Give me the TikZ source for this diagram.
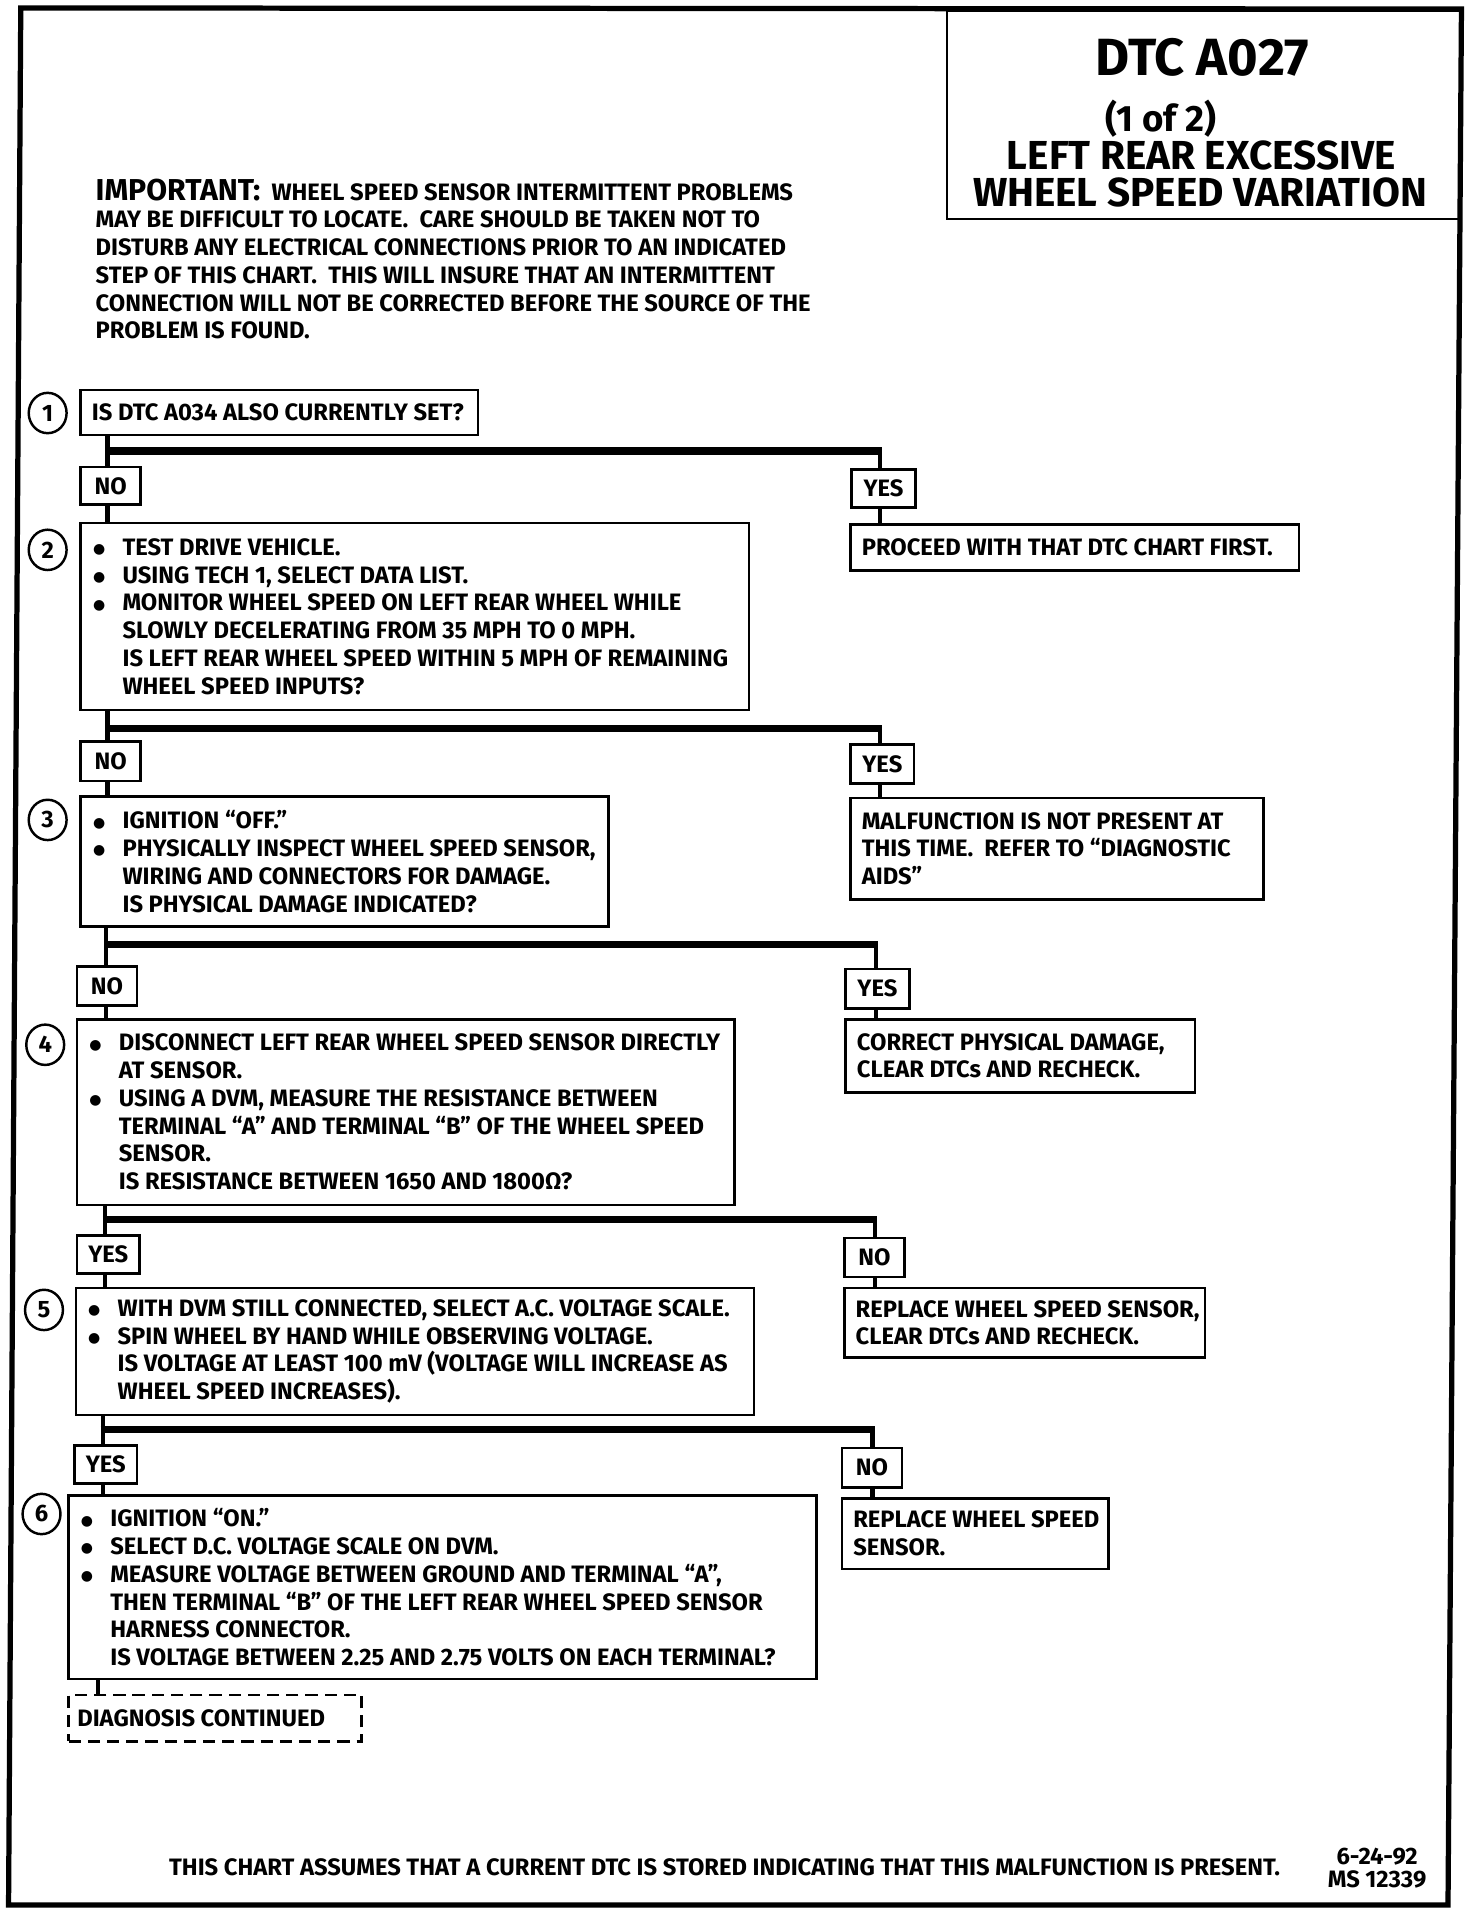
\documentclass[tikz,border=0pt]{standalone}
\usepackage{fontspec}
\setmainfont{Fira Sans}
\newfontfamily\symfont{DejaVu Sans}
\usetikzlibrary{calc,shapes.geometric}
\newcommand{\myu}{0.7pt}
\newcommand{\bfont}{\bfseries\fontsize{13.6}{15.9}\selectfont}
\newcommand{\bul}{\makebox[17.5pt][l]{\hspace{0.6pt}\raisebox{1pt}{\symfont\fontsize{8}{8}\selectfont ●}}}
\newcommand{\ind}{\hspace*{17.5pt}}
\newcommand{\mkbox}[6]{\node[frame, minimum width={(#4-#2)*\myu}, minimum height={(#5-#3)*\myu}] (#1) at (#2,#3) {#6};}
\tikzset{
  every node/.style={font=\bfont, inner sep=0pt},
  frame/.style={draw, line width=1.5pt, anchor=north west, inner sep=0pt},
  lbl/.style={anchor=west, align=left, inner sep=0pt},
  stem/.style={line width=2.4pt},
  bar/.style={line width=4.2pt},
  num/.style={draw, ellipse, line width=1.4pt, minimum width={31*\myu}, minimum height={33*\myu}, inner sep=0pt},
  dashbox/.style={frame, dash pattern=on 7pt off 4pt, line width=1.6pt},
  ttl/.style={anchor=base, font=\bfseries\fontsize{23.2}{26}\selectfont},
}
\begin{document}
\begin{tikzpicture}[x=\myu,y=-\myu]
\useasboundingbox (0,0) rectangle (1205,1568);
% outer border
\draw[line width=3pt] (17,6.5) -- (1196,7.4) -- (1185,1559) -- (7,1559) -- cycle;
% title box
\mkbox{title}{774}{8}{1194}{178}{}
\node[anchor=base, font=\bfseries\fontsize{30}{32}\selectfont] (t1) at (984,62) {DTC A027};
\node[ttl, font=\bfseries\fontsize{21}{24}\selectfont] (t2) at (950,108) {(1 of 2)};
\node[ttl] (t3) at (983,139) {LEFT REAR EXCESSIVE};
\node[ttl] (t4) at (982,169) {WHEEL SPEED VARIATION};
% important
\node[lbl] (imp) at (78,212) {{\fontsize{17.3}{15.9}\selectfont IMPORTANT:}\ \ WHEEL SPEED SENSOR INTERMITTENT PROBLEMS\\
MAY BE DIFFICULT TO LOCATE.\ \ CARE SHOULD BE TAKEN NOT TO\\
DISTURB ANY ELECTRICAL CONNECTIONS PRIOR TO AN INDICATED\\
STEP OF THIS CHART.\ \ THIS WILL INSURE THAT AN INTERMITTENT\\
CONNECTION WILL NOT BE CORRECTED BEFORE THE SOURCE OF THE\\
PROBLEM IS FOUND.};
% step 1
\node[num] (c1) at (39,338) {1};
\mkbox{s1}{65}{318}{390}{355}{}
\node[lbl] (s1t) at ($(s1.west)+(10,0)$) {IS DTC A034 ALSO CURRENTLY SET?};
\mkbox{no1}{65}{381}{114}{412}{NO}
\mkbox{yes1}{696}{383}{748}{414}{YES}
\mkbox{r1}{695}{428}{1062}{466}{}
\node[lbl] (r1t) at ($(r1.west)+(10,0)$) {PROCEED WITH THAT DTC CHART FIRST.};
\coordinate (j1) at (88,369); \coordinate (k1) at (720,369);
% step 2
\node[num] (c2) at (39,450) {2};
\mkbox{s2}{65}{427}{612}{580}{}
\node[lbl] (s2t) at ($(s2.west)+(10,0)$) {\bul TEST DRIVE VEHICLE.\\
\bul USING TECH 1, SELECT DATA LIST.\\
\bul MONITOR WHEEL SPEED ON LEFT REAR WHEEL WHILE\\
\ind SLOWLY DECELERATING FROM 35 MPH TO 0 MPH.\\
\ind IS LEFT REAR WHEEL SPEED WITHIN 5 MPH OF REMAINING\\
\ind WHEEL SPEED INPUTS?};
\mkbox{no2}{65}{606}{114}{638}{NO}
\mkbox{yes2}{695}{608}{747}{640}{YES}
\mkbox{r2}{695}{652}{1033}{735}{}
\node[lbl] (r2t) at ($(r2.west)+(10,0)$) {MALFUNCTION IS NOT PRESENT AT\\
THIS TIME.\ \ REFER TO “DIAGNOSTIC\\
AIDS”};
\coordinate (j2) at (88,596); \coordinate (k2) at (720,596);
% step 3
\node[num] (c3) at (39,671) {3};
\mkbox{s3}{65}{651}{497}{757}{}
\node[lbl] (s3t) at ($(s3.west)+(10,0)$) {\bul IGNITION “OFF.”\\
\bul PHYSICALLY INSPECT WHEEL SPEED SENSOR,\\
\ind WIRING AND CONNECTORS FOR DAMAGE.\\
\ind IS PHYSICAL DAMAGE INDICATED?};
\mkbox{no3}{62}{790}{111}{822}{NO}
\mkbox{yes3}{691}{792}{743}{824}{YES}
\mkbox{r3}{691}{833}{977}{893}{}
\node[lbl] (r3t) at ($(r3.west)+(10,0)$) {CORRECT PHYSICAL DAMAGE,\\
CLEAR DTCs AND RECHECK.};
\coordinate (j3) at (87,773); \coordinate (k3) at (717,773);
% step 4
\node[num] (c4) at (37,855) {4};
\mkbox{s4}{62}{833}{600}{985}{}
\node[lbl] (s4t) at ($(s4.west)+(10,0)$) {\bul DISCONNECT LEFT REAR WHEEL SPEED SENSOR DIRECTLY\\
\ind AT SENSOR.\\
\bul USING A DVM, MEASURE THE RESISTANCE BETWEEN\\
\ind TERMINAL “A” AND TERMINAL “B” OF THE WHEEL SPEED\\
\ind SENSOR.\\
\ind IS RESISTANCE BETWEEN 1650 AND 1800Ω?};
\mkbox{yes4}{62}{1010}{113}{1041}{YES}
\mkbox{no4}{690}{1012}{739}{1044}{NO}
\mkbox{r4}{690}{1053}{985}{1110}{}
\node[lbl] (r4t) at ($(r4.west)+(10,0)$) {REPLACE WHEEL SPEED SENSOR,\\
CLEAR DTCs AND RECHECK.};
\coordinate (j4) at (86,998); \coordinate (k4) at (716,998);
% step 5
\node[num] (c5) at (36,1072) {5};
\mkbox{s5}{61}{1053}{616}{1157}{}
\node[lbl] (s5t) at ($(s5.west)+(10,0)$) {\bul WITH DVM STILL CONNECTED, SELECT A.C. VOLTAGE SCALE.\\
\bul SPIN WHEEL BY HAND WHILE OBSERVING VOLTAGE.\\
\ind IS VOLTAGE AT LEAST 100 mV (VOLTAGE WILL INCREASE AS\\
\ind WHEEL SPEED INCREASES).};
\mkbox{yes5}{60}{1182}{111}{1213}{YES}
\mkbox{no5}{688}{1184}{737}{1216}{NO}
\mkbox{r5}{688}{1225}{906}{1283}{}
\node[lbl] (r5t) at ($(r5.west)+(10,0)$) {REPLACE WHEEL SPEED\\
SENSOR.};
\coordinate (j5) at (84,1170); \coordinate (k5) at (714,1170);
% step 6
\node[num] (c6) at (34,1239) {6};
\mkbox{s6}{55}{1223}{667}{1373}{}
\node[lbl] (s6t) at ($(s6.west)+(10,0)$) {\bul IGNITION “ON.”\\
\bul SELECT D.C. VOLTAGE SCALE ON DVM.\\
\bul MEASURE VOLTAGE BETWEEN GROUND AND TERMINAL “A”,\\
\ind THEN TERMINAL “B” OF THE LEFT REAR WHEEL SPEED SENSOR\\
\ind HARNESS CONNECTOR.\\
\ind IS VOLTAGE BETWEEN 2.25 AND 2.75 VOLTS ON EACH TERMINAL?};
\node[dashbox, minimum width={240*\myu}, minimum height={38*\myu}] (dc) at (55,1386) {};
\node[lbl] (dct) at ($(dc.west)+(8,0)$) {DIAGNOSIS CONTINUED};
\coordinate (j6) at (80,1380);
% connectors
\foreach \s/\n/\y/\r/\t/\j/\k in {s1/no1/yes1/r1/s2/j1/k1, s2/no2/yes2/r2/s3/j2/k2, s3/no3/yes3/r3/s4/j3/k3, s4/yes4/no4/r4/s5/j4/k4, s5/yes5/no5/r5/s6/j5/k5}{
  \draw[stem] (\s.south -| \j) -- (\j);
  \draw[bar] ([xshift=-1.2pt]\j) -- ([xshift=1.2pt]\k);
  \draw[stem] (\j) -- (\n.north -| \j);
  \draw[stem] (\n.south -| \j) -- (\t.north -| \j);
  \draw[stem] (\k) -- (\y.north -| \k);
  \draw[stem] (\y.south -| \k) -- (\r.north -| \k);
}
\draw[stem] (s6.south -| j6) -- (dc.north -| j6);
% footer
\node[anchor=base] (foot) at (593,1535) {THIS CHART ASSUMES THAT A CURRENT DTC IS STORED INDICATING THAT THIS MALFUNCTION IS PRESENT.};
\node[anchor=base] (date) at (1127,1526) {6-24-92};
\node[anchor=base] (ms) at (1127,1545) {MS 12339};
\end{tikzpicture}
\end{document}
